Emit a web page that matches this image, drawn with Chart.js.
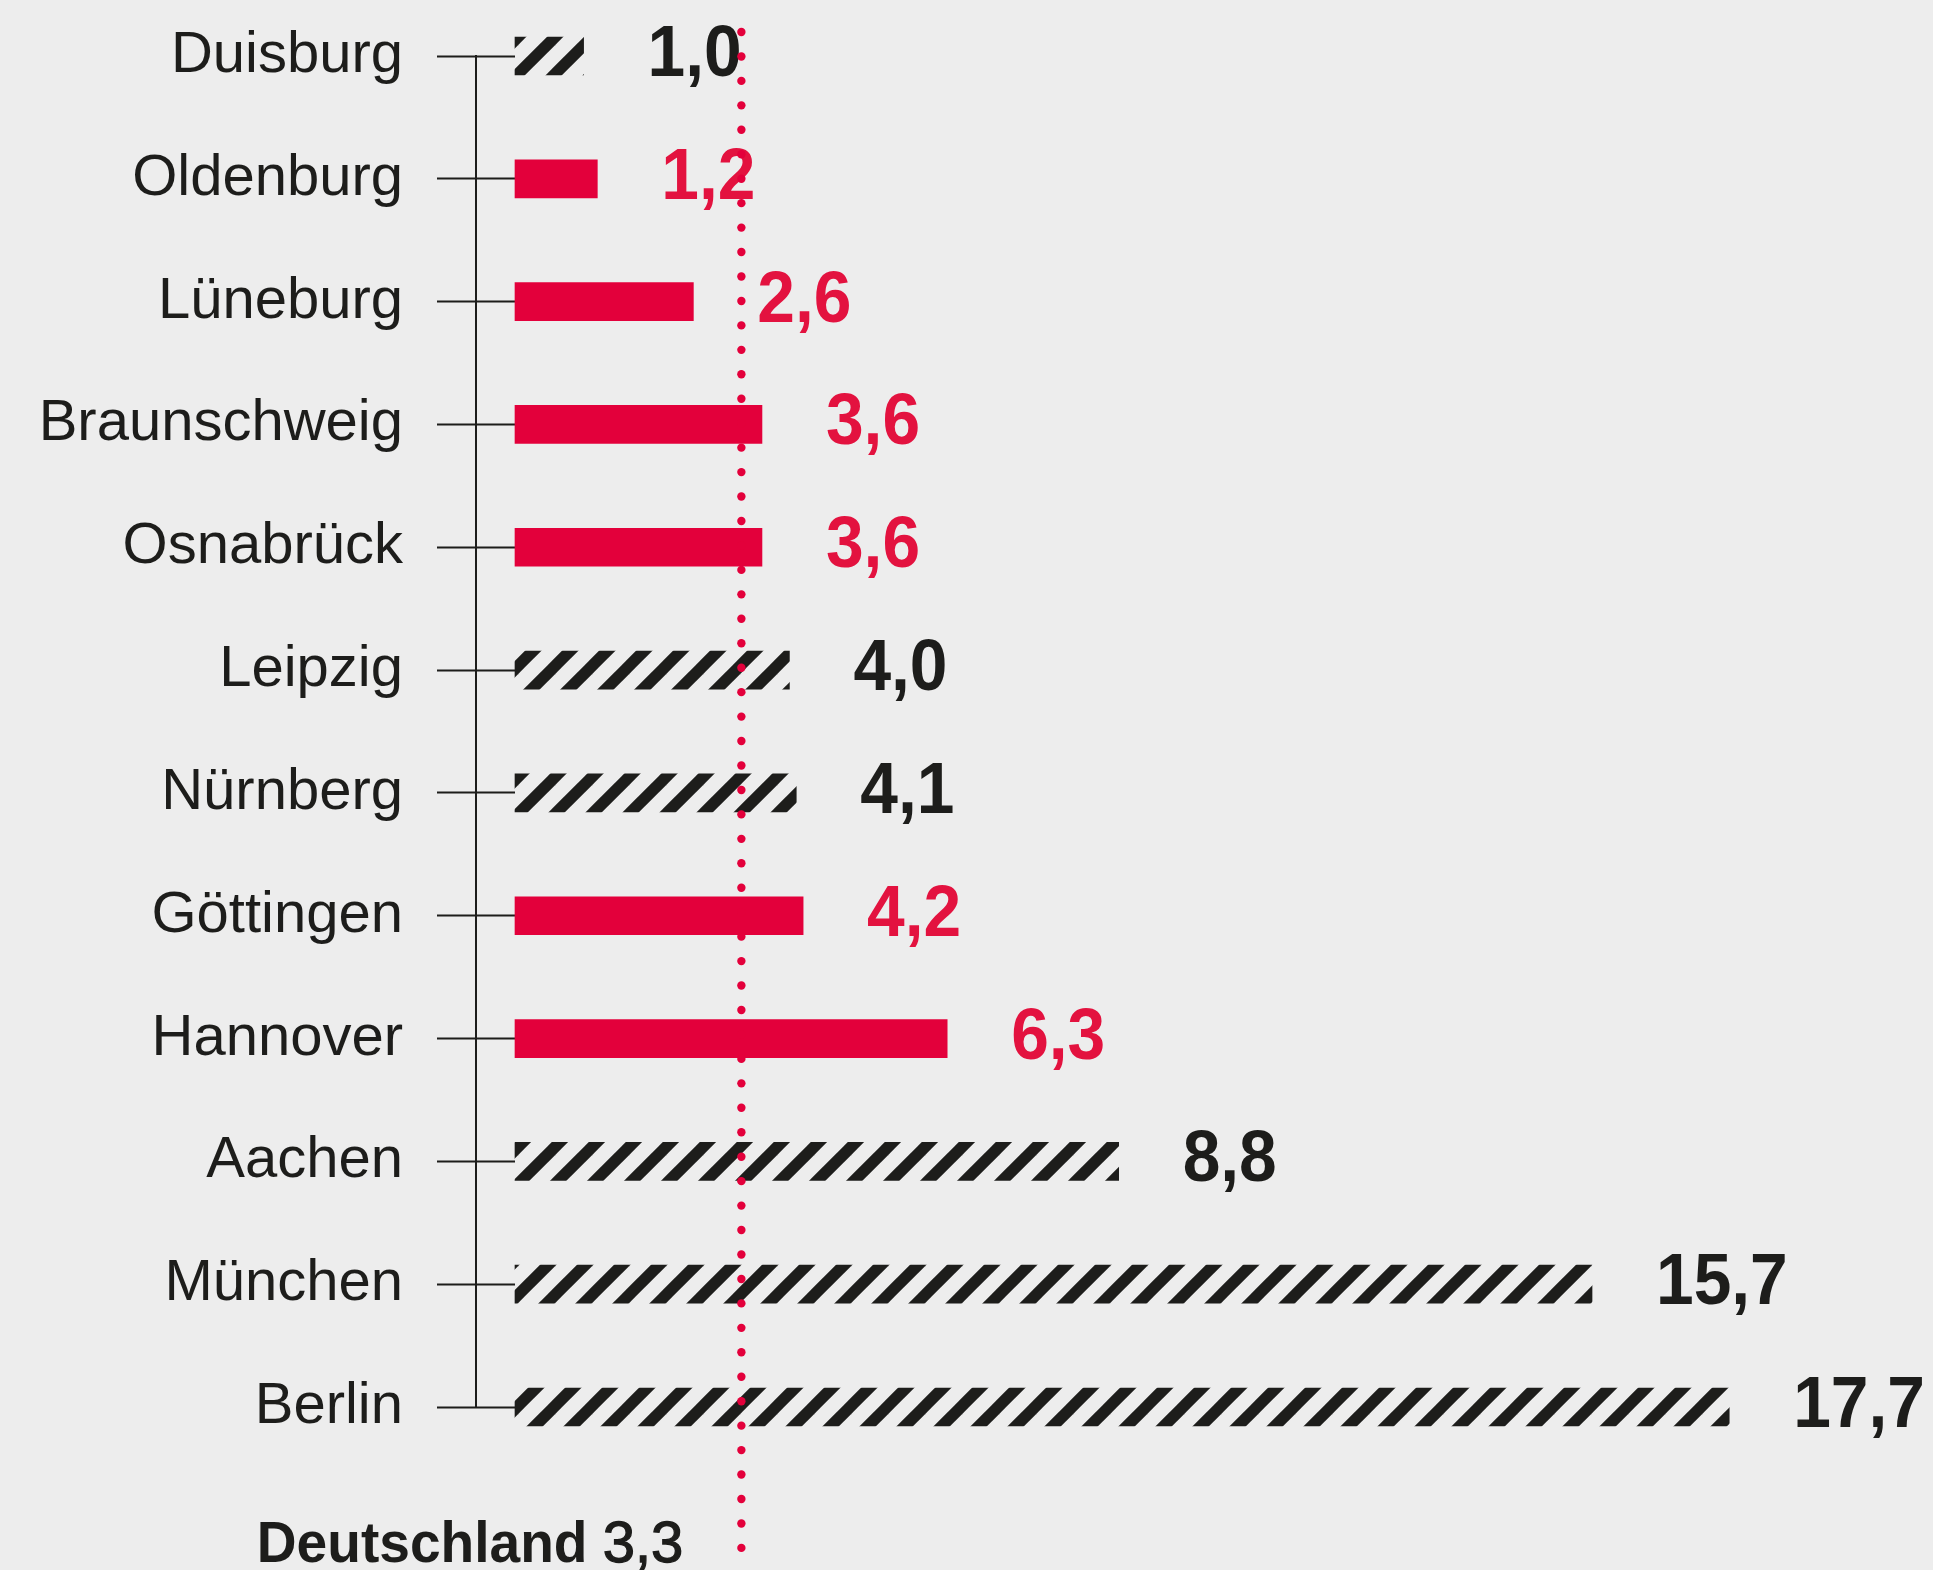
<!DOCTYPE html>
<html lang="de">
<head>
<meta charset="utf-8">
<script src="https://cdn.jsdelivr.net/npm/chart.js@4"></script>
<style>
  html, body { margin: 0; padding: 0; background: #ededed; }
  #wrap { width: 1933px; height: 1570px; position: relative; }
</style>
</head>
<body>
<div id="wrap"><canvas id="chart"></canvas></div>
<script>
// Städte, Werte und welche davon rot markiert sind (Niedersachsen)
const cities = ['Duisburg', 'Oldenburg', 'Lüneburg', 'Braunschweig', 'Osnabrück', 'Leipzig',
  'Nürnberg', 'Göttingen', 'Hannover', 'Aachen', 'München', 'Berlin'];
const values = [1.0, 1.2, 2.6, 3.6, 3.6, 4.0, 4.1, 4.2, 6.3, 8.8, 15.7, 17.7];
const redCities = ['Oldenburg', 'Lüneburg', 'Braunschweig', 'Osnabrück', 'Göttingen', 'Hannover'];
const nationalName = 'Deutschland';
const nationalValue = 3.3;

const RED = '#e3003b';
const RED_TEXT = '#e3123f';
const DARK = '#1d1d1b';
const FONT = '"Liberation Sans", Arial, sans-serif';

function fmt(v) {
  return v.toFixed(1).replace('.', ',');
}

// Schraffur-Muster (Streifen /)
function makeHatch() {
  const p = 37;
  const c = document.createElement('canvas');
  c.width = p; c.height = p;
  const g = c.getContext('2d');
  g.strokeStyle = DARK;
  g.lineWidth = 11.5;
  for (let k = -1; k <= 1; k++) {
    const off = (k + 1) * p;
    g.beginPath();
    g.moveTo(off - 2 * p, 2 * p);
    g.lineTo(off + p, -p);
    g.stroke();
  }
  return g.createPattern(c, 'repeat');
}
const hatch = makeHatch();

// etwas schmalere Schrift
function condensedText(ctx, txt, x, y, sx) {
  ctx.save();
  ctx.translate(x, y);
  ctx.scale(sx, 1);
  ctx.fillText(txt, 0, 0);
  ctx.restore();
}

const extras = {
  id: 'extras',
  afterDatasetsDraw(chart) {
    const ctx = chart.ctx;
    const x = chart.scales.x;
    const y = chart.scales.y;
    const area = chart.chartArea;
    const meta = chart.getDatasetMeta(0);

    // senkrechte Achsenlinie zwischen den Tick-Strichen
    const tl = y.options.grid.tickLength;
    const ax = area.left - tl / 2;
    ctx.save();
    ctx.strokeStyle = DARK;
    ctx.lineWidth = 2;
    ctx.beginPath();
    ctx.moveTo(ax, y.getPixelForValue(0) - 1);
    ctx.lineTo(ax, y.getPixelForValue(cities.length - 1) + 1);
    ctx.stroke();

    // Wertebeschriftungen
    ctx.font = 'bold 72px ' + FONT;
    ctx.textAlign = 'left';
    ctx.textBaseline = 'alphabetic';
    meta.data.forEach((bar, i) => {
      ctx.fillStyle = redCities.includes(cities[i]) ? RED_TEXT : DARK;
      condensedText(ctx, fmt(values[i]), bar.x + 64, bar.y + 20, 0.94);
    });

    // gepunktete Linie Deutschland-Durchschnitt
    const dx = x.getPixelForValue(nationalValue);
    ctx.fillStyle = RED;
    for (let py = 32; py < chart.height; py += 24.45) {
      ctx.beginPath();
      ctx.arc(dx, py, 4.2, 0, Math.PI * 2);
      ctx.fill();
    }

    // Beschriftung Deutschland 3,3
    const valTxt = fmt(nationalValue);
    ctx.fillStyle = DARK;
    ctx.strokeStyle = DARK;
    ctx.textAlign = 'right';
    ctx.font = '58px ' + FONT;
    const right = dx - 58;
    ctx.fillText(valTxt, right, 1562);
    ctx.lineWidth = 1.3;
    ctx.strokeText(valTxt, right, 1562);
    const w = ctx.measureText(valTxt).width;
    ctx.font = 'bold 58px ' + FONT;
    ctx.textAlign = 'left';
    const nw = ctx.measureText(nationalName + ' ').width * 0.95;
    condensedText(ctx, nationalName + ' ', right - w - nw, 1562, 0.95);
    ctx.restore();
  }
};

new Chart(document.getElementById('chart'), {
  type: 'bar',
  data: {
    labels: cities,
    datasets: [{
      data: values,
      backgroundColor: cities.map(c => redCities.includes(c) ? RED : hatch),
      borderWidth: 0,
      barThickness: 38,
      clip: false
    }]
  },
  options: {
    indexAxis: 'y',
    responsive: true,
    maintainAspectRatio: false,
    animation: false,
    layout: { padding: { top: 56, bottom: 163, left: 0, right: 46 } },
    scales: {
      x: { display: false, min: 0, max: 20 },
      y: {
        offset: false,
        afterFit: s => { s.width = 515; s.paddingTop = 0; s.paddingBottom = 0; },
        border: { display: false },
        grid: { offset: false, drawOnChartArea: false, tickLength: 78, tickWidth: 2, tickColor: DARK },
        ticks: { padding: 34, color: DARK, font: { family: FONT, size: 58 } }
      }
    },
    plugins: { legend: { display: false }, tooltip: { enabled: false } }
  },
  plugins: [extras]
});
</script>
</body>
</html>
